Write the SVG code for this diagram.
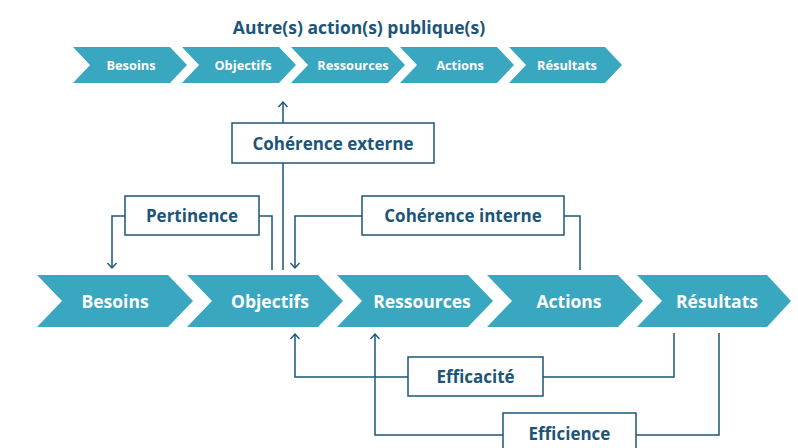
<svg xmlns="http://www.w3.org/2000/svg" width="798" height="448" viewBox="0 0 798 448">
<style>
.chev{fill:#3aa7c1}
.ct{font-family:"Open Sans","DejaVu Sans",sans-serif;font-weight:700;fill:#ffffff;text-anchor:middle}
.s{font-size:12.8px}
.b{font-size:17.5px}
.box{fill:#ffffff;stroke:#1c5577;stroke-width:1.5}
.bt{font-family:"Open Sans","DejaVu Sans",sans-serif;font-weight:700;fill:#1c5577;text-anchor:middle;font-size:17px}
.ln{fill:none;stroke:#1c5577;stroke-width:1.5}
</style>
<defs>
<marker id="ah" viewBox="-6 -6 12 12" markerWidth="12" markerHeight="12" markerUnits="userSpaceOnUse" orient="auto">
<path d="M-5,-4.5 L0,0 L-5,4.5" fill="none" stroke="#1c5577" stroke-width="1.4"/>
</marker>
</defs>
<rect width="798" height="448" fill="#ffffff"/>
<text x="359" y="34" font-family="Open Sans, DejaVu Sans, sans-serif" font-weight="700" font-size="17.5" fill="#1c5577" text-anchor="middle">Autre(s) action(s) publique(s)</text>

<g id="top-besoins"><polygon class="chev" points="73,47 170,47 187,65 170,83 73,83 90,65"/><text class="ct s" x="131" y="69.5">Besoins</text></g>
<g id="top-objectifs"><polygon class="chev" points="182,47 279,47 296,65 279,83 182,83 199,65"/><text class="ct s" x="243" y="69.5">Objectifs</text></g>
<g id="top-ressources"><polygon class="chev" points="291,47 388,47 405,65 388,83 291,83 308,65"/><text class="ct s" x="353" y="69.5">Ressources</text></g>
<g id="top-actions"><polygon class="chev" points="400,47 497,47 514,65 497,83 400,83 417,65"/><text class="ct s" x="460" y="69.5">Actions</text></g>
<g id="top-resultats"><polygon class="chev" points="509,47 605,47 622,65 605,83 509,83 526,65"/><text class="ct s" x="567" y="69.5">Résultats</text></g>

<g id="connectors">
<path class="ln" d="M283,270 V102" marker-end="url(#ah)"/>
<path class="ln" d="M125,216 H112 V268" marker-end="url(#ah)"/>
<path class="ln" d="M259,216 H272 V270"/>
<path class="ln" d="M362,216 H295 V268" marker-end="url(#ah)"/>
<path class="ln" d="M564,216 H580 V270"/>
<path class="ln" d="M408,377 H295 V334" marker-end="url(#ah)"/>
<path class="ln" d="M543,377 H674 V333"/>
<path class="ln" d="M503,435 H375 V334" marker-end="url(#ah)"/>
<path class="ln" d="M636,435 H719 V333"/>
</g>

<g id="coherence-externe"><rect class="box" x="232" y="123" width="202" height="40"/><text class="bt" x="333" y="150">Cohérence externe</text></g>
<g id="pertinence"><rect class="box" x="125" y="196" width="134" height="39"/><text class="bt" x="192" y="222">Pertinence</text></g>
<g id="coherence-interne"><rect class="box" x="362" y="196" width="202" height="39"/><text class="bt" x="463" y="222">Cohérence interne</text></g>
<g id="efficacite"><rect class="box" x="408" y="357" width="135" height="39"/><text class="bt" x="475.5" y="383">Efficacité</text></g>
<g id="efficience"><rect class="box" x="503" y="413" width="133" height="40"/><text class="bt" x="569.5" y="440">Efficience</text></g>

<g id="besoins"><polygon class="chev" points="37,275 168,275 193,301 168,327 37,327 62,301"/><text class="ct b" x="115" y="307.5">Besoins</text></g>
<g id="objectifs"><polygon class="chev" points="187,275 318,275 343,301 318,327 187,327 212,301"/><text class="ct b" x="270" y="307.5">Objectifs</text></g>
<g id="ressources"><polygon class="chev" points="337,275 468,275 493,301 468,327 337,327 362,301"/><text class="ct b" x="422" y="307.5">Ressources</text></g>
<g id="actions"><polygon class="chev" points="487,275 618,275 643,301 618,327 487,327 512,301"/><text class="ct b" x="569" y="307.5">Actions</text></g>
<g id="resultats"><polygon class="chev" points="637,275 767,275 791,301 767,327 637,327 662,301"/><text class="ct b" x="717" y="307.5">Résultats</text></g>
</svg>
